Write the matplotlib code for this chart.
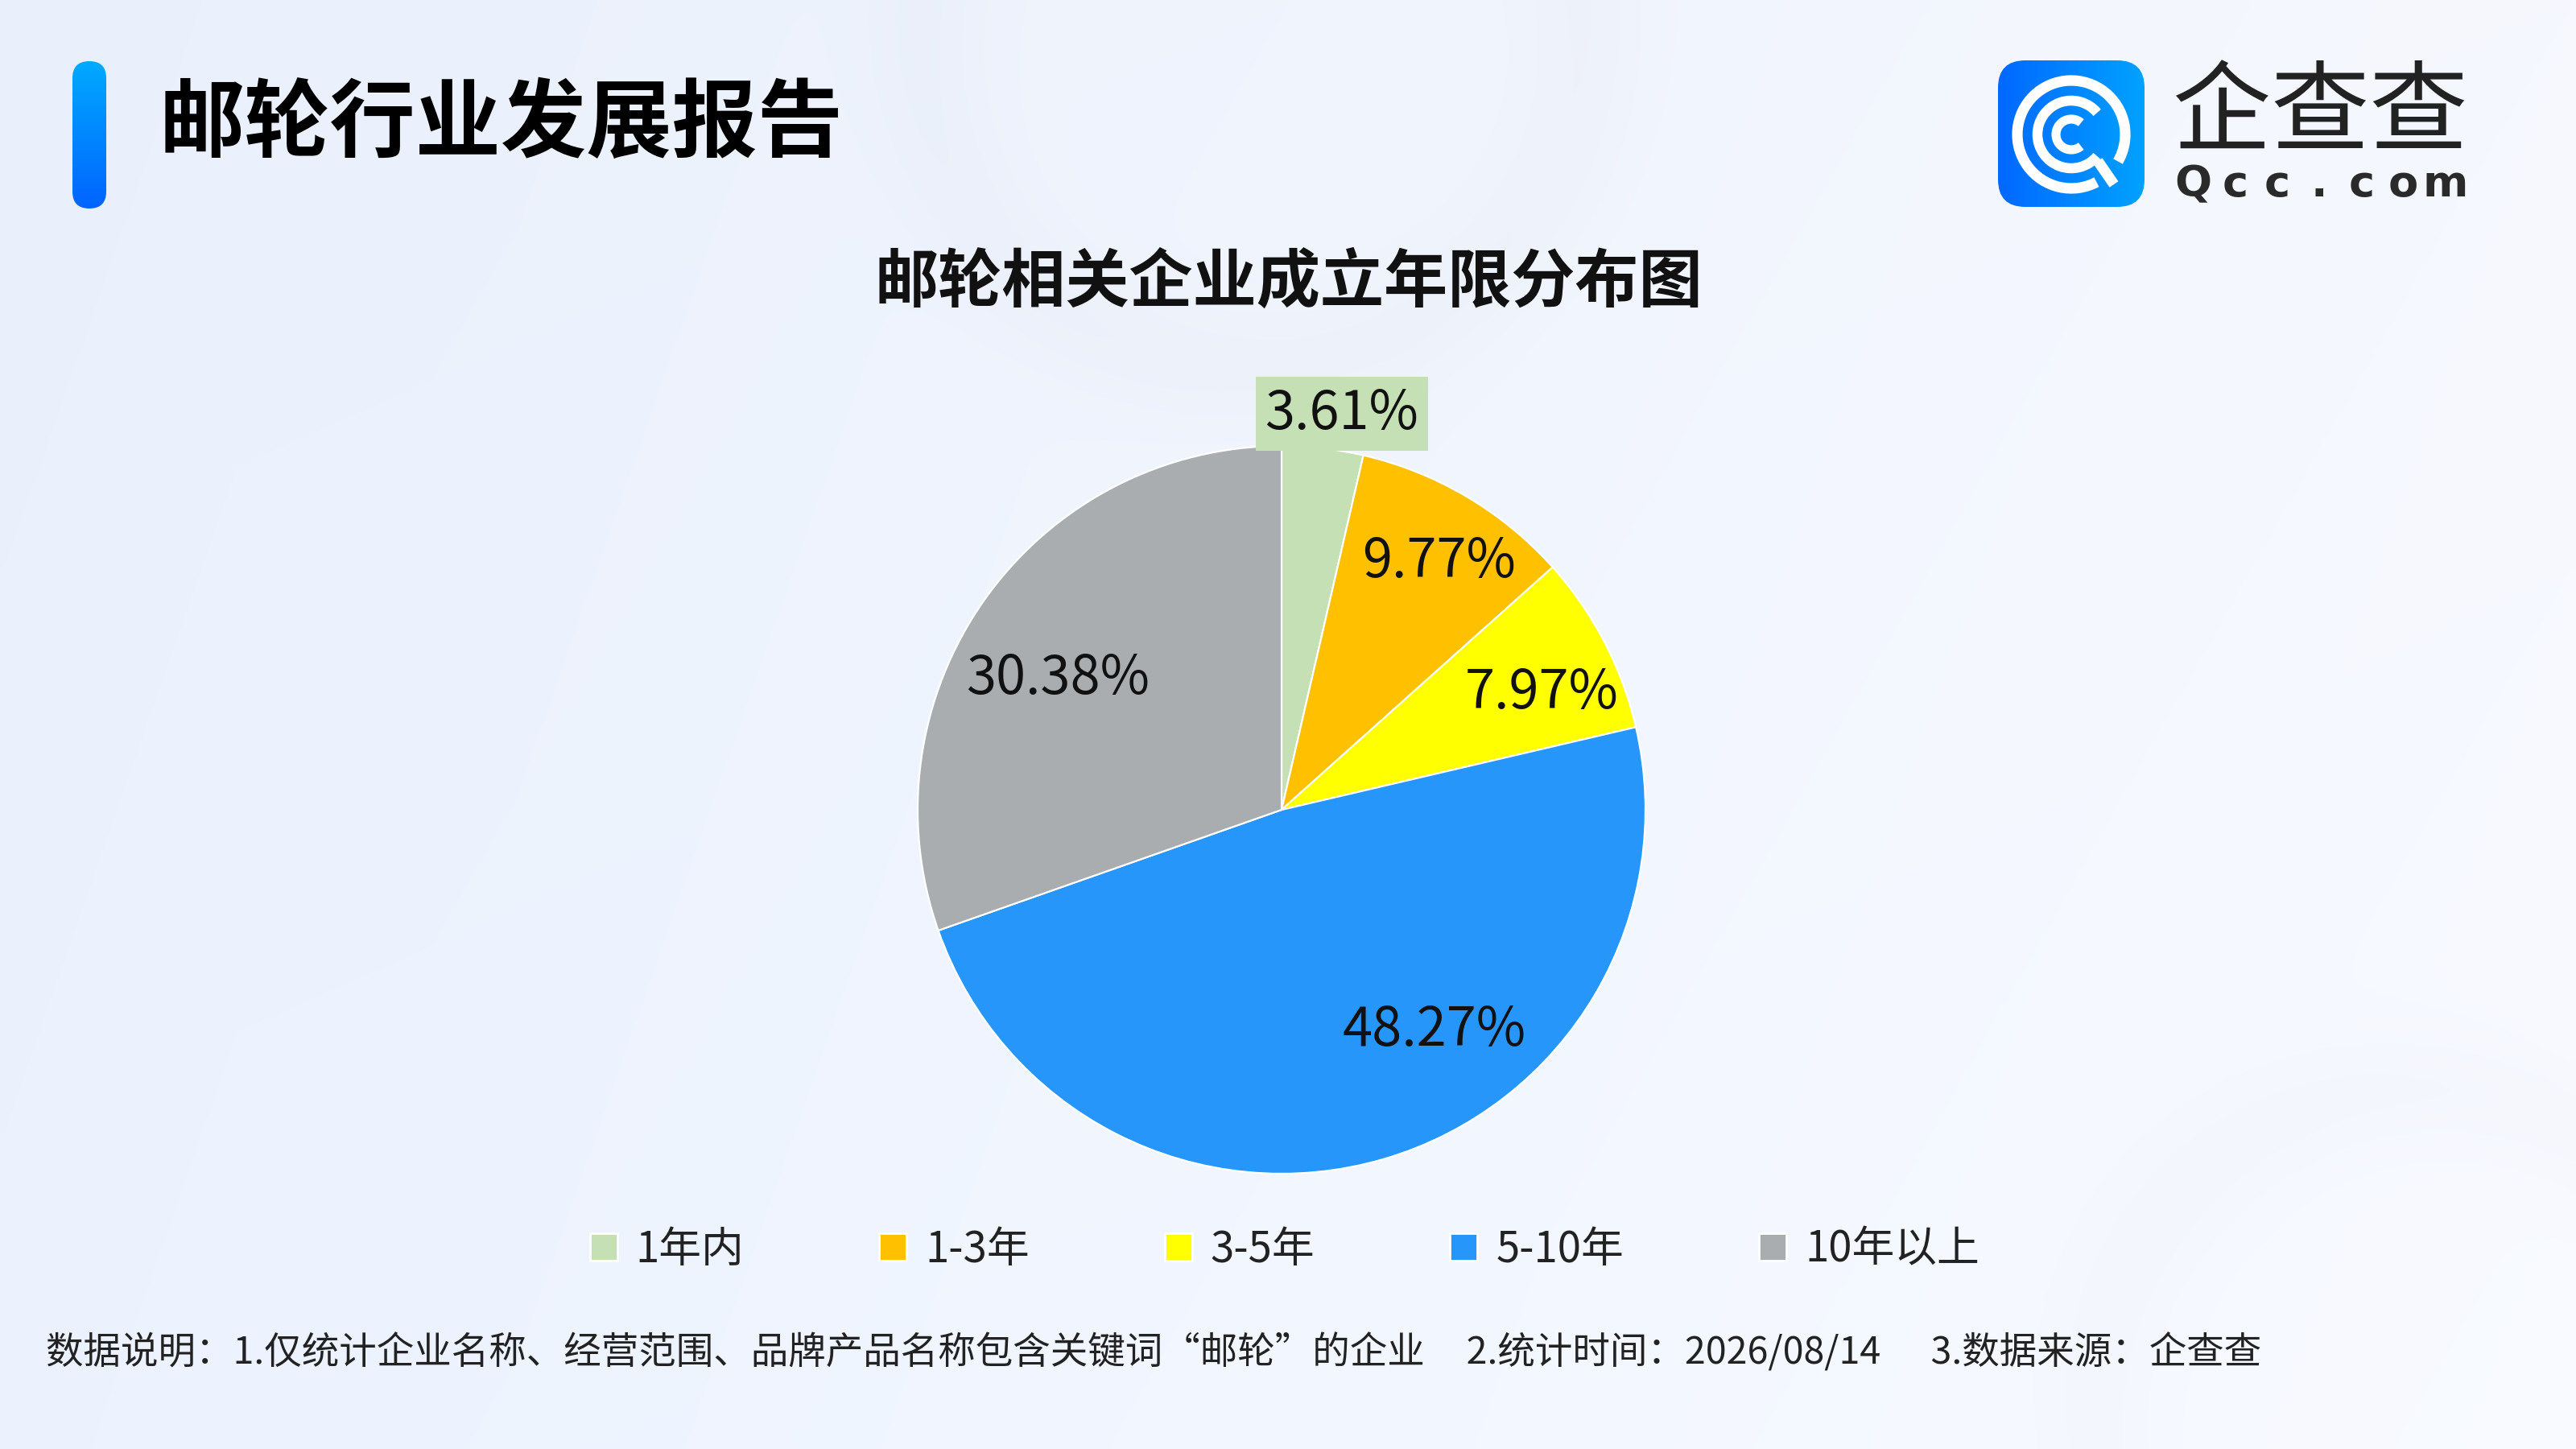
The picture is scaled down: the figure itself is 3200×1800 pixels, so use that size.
import numpy as np
import matplotlib
matplotlib.use("Agg")
import matplotlib.pyplot as plt
from matplotlib.patches import FancyBboxPatch, Arc
from matplotlib.lines import Line2D

plt.rcParams['font.family'] = ['Noto Sans CJK SC', 'DejaVu Sans']

# data
categories = ['1年内', '1-3年', '3-5年', '5-10年', '10年以上']
shares = [3.61, 9.77, 7.97, 48.27, 30.38]
colors = ['#C5E0B4', '#FFC000', '#FFFF00', '#2796FB', '#A9ADB0']

header = '邮轮行业发展报告'
title = '邮轮相关企业成立年限分布图'
note = ('数据说明：1.仅统计企业名称、经营范围、品牌产品名称包含关键词“邮轮”的企业'
        '     2.统计时间：2026/08/14      3.数据来源：企查查')

W, H = 3200, 1800
fig = plt.figure(figsize=(32, 18), dpi=100)

# full-figure layer for background, header, logo and footer (pixel coords, y down)
bg = fig.add_axes([0, 0, 1, 1])
bg.axis('off')


def hex2rgb(c):
    c = c.lstrip('#')
    return np.array([int(c[i:i + 2], 16) for i in (0, 2, 4)]) / 255.0


def grad_fill(ax, patch, extent, c1, c2, horizontal=True):
    ax.add_patch(patch)
    t = np.linspace(0, 1, 256)
    a, b = hex2rgb(c1), hex2rgb(c2)
    line = a[None, :] * (1 - t[:, None]) + b[None, :] * t[:, None]
    img = line[None, :, :] if horizontal else line[:, None, :]
    im = ax.imshow(img, extent=extent, aspect='auto', zorder=patch.get_zorder(),
                   interpolation='bilinear')
    im.set_clip_path(patch)
    patch.set_facecolor('none')
    patch.set_edgecolor('none')


# background gradient
yy, xx = np.mgrid[0:180, 0:320]
fx = xx / 319.0
fy = yy / 179.0
left = hex2rgb('#E9F0FC')
right = hex2rgb('#F6F8FE')
img = left[None, None, :] * (1 - fx[..., None]) + right[None, None, :] * fx[..., None]
img = img + 0.01 * fy[..., None]
# faint round glows
d1 = np.hypot(xx - 155, yy - 4) / 41.0
img = img - 0.012 * np.exp(-(d1 - 1.0) ** 2 * 30)[..., None]
d2 = np.hypot(xx - 300, yy - 175) / 40.0
img = img - 0.01 * np.exp(-(d2 - 1.0) ** 2 * 30)[..., None]
bg.imshow(np.clip(img, 0, 1), extent=(0, W, H, 0), aspect='auto', zorder=0,
          interpolation='bilinear')

# header bar + header text
bar = FancyBboxPatch((90, 76), 42, 183, boxstyle='round,pad=0,rounding_size=21', zorder=2)
grad_fill(bg, bar, (90, 132, 259, 76), '#00AAFF', '#0064FF', horizontal=False)
bg.text(198, 156, header, fontsize=76.5, fontweight='heavy', color='#000000',
        ha='left', va='center', zorder=3)

# logo
box = FancyBboxPatch((2482, 75), 182, 182, boxstyle='round,pad=0,rounding_size=34', zorder=2)
grad_fill(bg, box, (2482, 2664, 257, 75), '#0068FF', '#00A2FF', horizontal=True)
lx, ly = 2573, 167
bg.add_patch(Arc((lx, ly), 134, 134, theta1=62, theta2=30, color='white', lw=9.5, zorder=4))
bg.add_patch(Arc((lx, ly), 84, 84, theta1=40, theta2=320, color='white', lw=9, zorder=4))
bg.add_patch(Arc((lx, ly), 38, 38, theta1=50, theta2=310, color='white', lw=8, zorder=4))
bg.plot([2606, 2626], [200, 229], color='white', lw=9.5, solid_capstyle='butt', zorder=4)
bg.text(2882, 144, '企查查', fontsize=88, fontweight='medium', color='#222222',
        ha='center', va='center', zorder=3)
for i, ch in enumerate('Qcc.com'):
    bg.text(2724 + i * 52.3, 229, ch, fontsize=39, fontweight='bold', color='#2A2A2A',
            ha='center', va='center', family='DejaVu Sans', zorder=3)

# chart title
bg.text(1601, 351, title, fontsize=57, fontweight='bold', color='#111111',
        ha='center', va='center', zorder=3)

# footer note
bg.text(57, 1681, note, fontsize=33.5, color='#222222', ha='left', va='center', zorder=3)

bg.set_xlim(0, W)
bg.set_ylim(H, 0)

# pie
cx, cy, R = 1592, 1006, 452
half = 500
ax = fig.add_axes([(cx - half) / W, 1 - (cy + half) / H, 2 * half / W, 2 * half / H])
ax.patch.set_alpha(0)
wedges, texts, autotexts = ax.pie(
    shares, colors=colors, startangle=90, counterclock=False, radius=1,
    wedgeprops=dict(edgecolor='white', linewidth=1.6),
    autopct='%.2f%%', pctdistance=0.78,
    textprops=dict(fontsize=48, color='#111111'))

# label placement (pixel offsets from centre)
label_px = [(75, 492), (196, 308), (323, 145), (190, -274), (-278, 163)]
for t, (dx, dy) in zip(autotexts, label_px):
    t.set_position((dx / R, dy / R))
autotexts[0].set_bbox(dict(boxstyle='square,pad=0.18', facecolor=colors[0], edgecolor='none'))
lim = half / R
ax.set_xlim(-lim, lim)
ax.set_ylim(-lim, lim)

# legend
handles = [Line2D([], [], marker='s', linestyle='none', markersize=24,
                  markerfacecolor=c, markeredgecolor='white', markeredgewidth=2)
           for c in colors]
fig.legend(handles, categories, loc='center', bbox_to_anchor=(0.498, 1 - 1552 / H),
           ncol=5, frameon=False, fontsize=38, handlelength=0.8, handletextpad=0.36,
           columnspacing=3.1, labelcolor='#222222')

fig.savefig('out.png', dpi=100)
